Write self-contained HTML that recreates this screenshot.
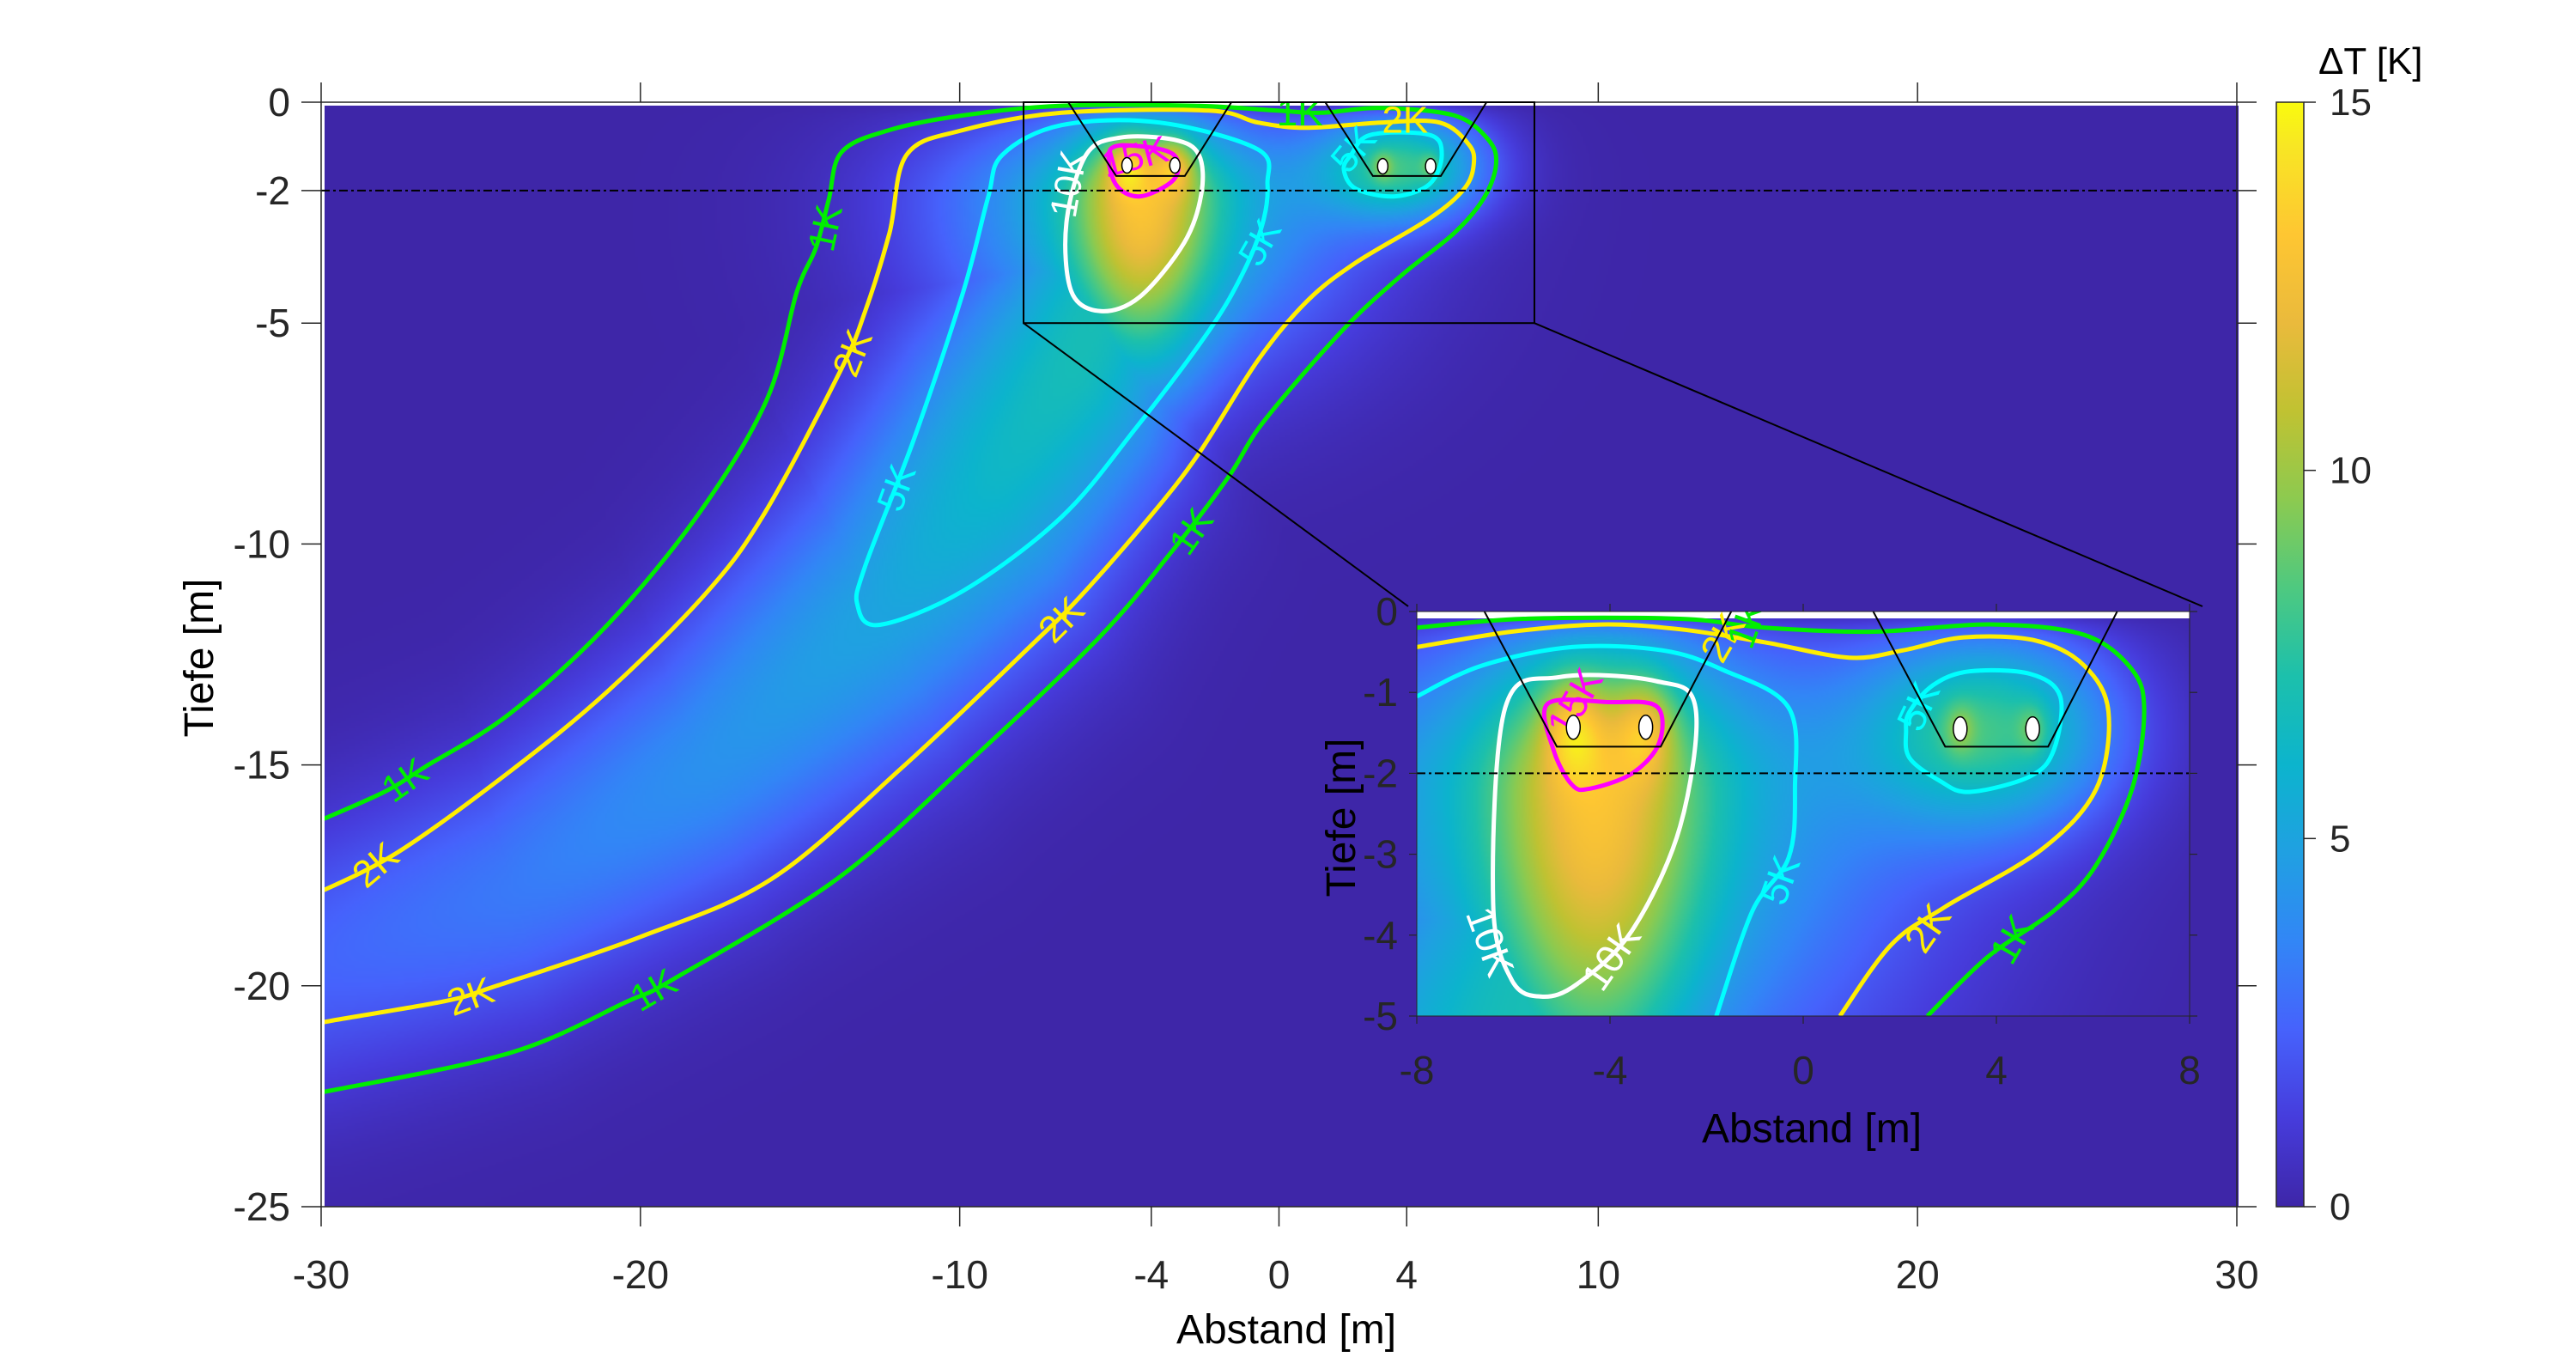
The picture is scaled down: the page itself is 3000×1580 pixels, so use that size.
<!DOCTYPE html>
<html><head><meta charset="utf-8">
<style>
html,body{margin:0;padding:0;background:#fff;}
#wrap{position:relative;width:3000px;height:1580px;overflow:hidden;font-family:"Liberation Sans",Arial,sans-serif;}
canvas{position:absolute;}
svg{position:absolute;left:0;top:0;}
</style></head>
<body>
<div id="wrap">
<canvas id="mainHeat" style="left:378px;top:123px;width:2229px;height:1282px;"></canvas>
<canvas id="insetHeat" style="left:1650px;top:720px;width:900px;height:463px;"></canvas>
<svg id="svg" width="3000" height="1580" xmlns="http://www.w3.org/2000/svg"></svg>
</div>
<script>
// ---------- data ----------
const mainXTicks=[-30,-20,-10,-4,0,4,10,20,30];
const mainYTicks=[0,-2,-5,-10,-15,-20,-25];
const insetXTicks=[-8,-4,0,4,8];
const insetYTicks=[0,-1,-2,-3,-4,-5];
const cbTicks=[0,5,10,15];
// plume centerline model
const plumeX=[-4.5,-6.5,-9,-12.5,-18,-24,-30,-34];
const plumeZ=[-3,-6,-8.5,-11.5,-15,-17.8,-19.4,-19.8];
const plumeA=[7,6.8,6.2,5,4.1,3.2,2.5,2.3];
const plumeW=[2.2,2.6,2.8,2.6,2.3,2.2,2.2,2.2];
// main contours [x,z]
const main1K=[[-30.04,-16.26],[-27.99,-15.6],[-26.76,-15.05],[-24.09,-13.84],[-21.02,-11.82],[-18.15,-9.29],[-16.04,-6.73],[-15.1,-4.29],[-14.5,-3.29],[-14.1,-2.2],[-13.7,-1.13],[-12.2,-0.63],[-9.9,-0.3],[-6.8,-0.08],[-2.66,-0.08],[-0.05,-0.19],[1.33,-0.24],[3.18,-0.13],[5.49,-0.3],[6.56,-0.85],[6.8,-1.41],[6.41,-2.18],[5.49,-2.96],[3.95,-3.85],[2.41,-4.85],[0.87,-6.06],[-0.66,-7.4],[-1.6,-8.5],[-3.39,-10.2],[-5.64,-12.12],[-9.74,-14.95],[-13.84,-17.58],[-18.97,-19.85],[-20.4,-20.35],[-24.09,-21.52],[-30.04,-22.42]];
const main2K=[[-30.04,-17.88],[-27.58,-16.97],[-24.09,-15.15],[-21.02,-13.33],[-17.94,-11.11],[-16.1,-9.29],[-13.73,-6.07],[-12.96,-4.73],[-12.2,-2.96],[-11.66,-1.19],[-9.89,-0.63],[-6.81,-0.24],[-2.2,-0.19],[-0.66,-0.46],[0.87,-0.58],[3.18,-0.46],[5.03,-0.46],[5.95,-0.96],[6.1,-1.41],[5.8,-1.96],[4.72,-2.63],[2.41,-3.63],[0.87,-4.51],[-0.66,-5.84],[-2.51,-7.95],[-4.05,-9.39],[-6.2,-11.17],[-7.74,-12.28],[-11.79,-15.05],[-15.89,-17.58],[-19.99,-18.89],[-24.5,-20.0],[-26.14,-20.35],[-29.83,-20.81],[-30.04,-20.91]];
const main5K=[[-8.66,-1.19],[-6.81,-0.52],[-3.74,-0.46],[-0.66,-1.07],[-0.36,-1.85],[-0.51,-2.74],[-1.12,-3.85],[-2.2,-5.18],[-4.51,-7.4],[-6.81,-9.39],[-9.89,-11.06],[-12.5,-11.83],[-13.2,-11.39],[-12.96,-10.5],[-11.43,-7.62],[-9.89,-4.29],[-9.12,-2.18]];
const main5KR=[[2.26,-1.19],[2.87,-0.74],[4.72,-0.74],[5.1,-1.19],[4.72,-1.85],[3.64,-2.13],[2.41,-1.96],[2.03,-1.52]];
const main10K=[[-6.66,-2.74],[-6.5,-4.29],[-5.58,-4.73],[-4.35,-4.4],[-2.97,-3.18],[-2.43,-2.07],[-2.51,-1.19],[-3.28,-0.85],[-4.97,-0.8],[-6.04,-1.19]];
const main15K=[[-5.28,-1.07],[-4.3,-1.0],[-3.28,-1.2],[-3.28,-1.74],[-4.35,-2.13],[-5.12,-1.85]];
// inset contours
const ins1K=[[-8,-0.2],[-5.79,-0.09],[-2.55,-0.09],[-0.8,-0.2],[1.45,-0.25],[3.94,-0.16],[5.82,-0.29],[6.81,-0.72],[7.06,-1.24],[6.81,-2.19],[6.07,-3.13],[5.19,-3.7],[3.82,-4.27],[2.57,-5]];
const ins2K=[[-8,-0.44],[-6.04,-0.25],[-4.17,-0.16],[-2.55,-0.22],[-0.8,-0.38],[0.95,-0.57],[2.07,-0.48],[3.32,-0.32],[4.82,-0.36],[5.82,-0.67],[6.32,-1.24],[6.07,-2.19],[4.94,-2.94],[2.94,-3.65],[1.82,-4.12],[0.76,-5]];
const ins5K=[[-8,-1.05],[-6.66,-0.67],[-4.79,-0.44],[-2.92,-0.48],[-1.67,-0.72],[-0.3,-1.19],[-0.17,-2.19],[-0.3,-3.04],[-1.05,-3.7],[-1.8,-5]];
const ins5KR=[[2.2,-1.24],[2.69,-0.91],[3.44,-0.74],[4.69,-0.77],[5.32,-1.05],[5.19,-1.71],[4.69,-2.04],[3.44,-2.23],[2.82,-2.09],[2.2,-1.81],[2.13,-1.48]];
const ins10K=[[-6.17,-1.19],[-6.42,-3.6],[-6.04,-4.55],[-5.42,-4.76],[-4.67,-4.6],[-3.54,-3.94],[-2.55,-2.66],[-2.23,-1.19],[-3.05,-0.86],[-5.04,-0.81]];
const ins15K=[[-5.29,-1.14],[-4.04,-1.12],[-3.04,-1.17],[-2.98,-1.62],[-3.54,-2.0],[-4.42,-2.19],[-4.79,-2.14],[-5.17,-1.71]];
// contour labels [x,z,angle]
const mainLabelText=["1K","2K","5K","10K","15K","5K","1K","2K","5K","1K","2K","1K","2K","2K","1K"];
const mainLabelPos=[[-14.2,-2.85,-78],[-13.35,-5.68,-68],[-11.97,-8.73,-70],[-6.58,-1.85,-80],[-4.51,-1.24,-15],[-0.59,-3.18,-60],[0.65,-0.24,0],[3.95,-0.41,0],[2.34,-1.07,-50],[-2.74,-9.72,-55],[-6.81,-11.72,-45],[-27.37,-15.35,-35],[-28.29,-17.27,-40],[-25.32,-20.25,-20],[-19.58,-20.1,-30]];
const insLabelText=["15K","2K","1K","5K","5K","10K","10K","2K","1K"];
const insLabelPos=[[-4.73,-1.12,-60],[-1.67,-0.32,-60],[-1.17,-0.15,-70],[2.38,-1.17,-65],[-0.49,-3.32,-70],[-6.48,-4.08,70],[-3.98,-4.27,-55],[2.57,-3.91,-55],[4.32,-4.05,-60]];
const contourColor={1:"#00ee00",2:"#ffee00",5:"#00ffff",10:"#ffffff",15:"#ff00ff"};
// trenches & pipes
const trenchL=[[-6.6,0],[-5.1,-1.67],[-2.95,-1.67],[-1.49,0]];
const trenchR=[[1.45,0],[2.94,-1.67],[5.07,-1.67],[6.5,0]];
const pipesX=[-4.76,-3.26,3.25,4.75];
const pipesZ=[-1.43,-1.43,-1.45,-1.45];
const parulaPos=[0,0.08,0.16,0.24,0.32,0.40,0.48,0.56,0.64,0.72,0.80,0.88,0.96,1];
const parulaRGB=[[62,38,168],[70,60,220],[70,98,252],[50,134,246],[32,160,226],[12,180,205],[28,192,172],[78,201,128],[140,202,80],[192,194,50],[234,186,60],[254,198,50],[248,230,36],[249,251,14]];

// ---------- axes ----------
const MX=x=>374+(x+30)*2231/60, MZ=z=>119-z*1286/25;
const IX=x=>1650+(x+8)*900/16, IZ=z=>712-z*471/5;
const NS="http://www.w3.org/2000/svg";
const svg=document.getElementById('svg');
function el(tag,attrs,parent){const e=document.createElementNS(NS,tag);for(const k in attrs)e.setAttribute(k,attrs[k]);(parent||svg).appendChild(e);return e;}

function parula(t){t=Math.max(0,Math.min(1,t));for(let i=1;i<parulaPos.length;i++){if(t<=parulaPos[i]){const f=(t-parulaPos[i-1])/(parulaPos[i]-parulaPos[i-1]);const a=parulaRGB[i-1],b=parulaRGB[i];return [a[0]+(b[0]-a[0])*f,a[1]+(b[1]-a[1])*f,a[2]+(b[2]-a[2])*f];}}return parulaRGB[parulaRGB.length-1];}

function field(x,z){
  const dz=z+2.3, up=dz>0;
  const sN=up?1.5:3.2, sW=up?1.5:2.6;
  const vN=Math.exp(-dz*dz/(2*sN*sN)), vW=Math.exp(-dz*dz/(2*sW*sW));
  let tL=6.5*Math.exp(-(x+4.3)*(x+4.3)/4.5)*vN+6.5*Math.exp(-(x+4.3)*(x+4.3)/40.5)*vW;
  for(let i=0;i<2;i++){const dx=x-pipesX[i],dd=z-pipesZ[i];tL+=3.5*Math.exp(-(dx*dx+dd*dd)/0.35);}
  let tR=7*Math.exp(-(x-3.9)*(x-3.9)/6.68-(z+1.45)*(z+1.45)/1.54);
  for(let i=2;i<4;i++){const dx=x-pipesX[i],dd=z-pipesZ[i];tR+=2*Math.exp(-(dx*dx+dd*dd)/0.1);}
  let best=1e9,A=0,W=1;
  for(let i=0;i<plumeX.length-1;i++){
    const ax=plumeX[i],az=plumeZ[i],bx=plumeX[i+1],bz=plumeZ[i+1];
    const vx=bx-ax,vz=bz-az;let t=((x-ax)*vx+(z-az)*vz)/(vx*vx+vz*vz);t=Math.max(0,Math.min(1,t));
    const px=ax+vx*t,pz=az+vz*t,d=(x-px)*(x-px)+(z-pz)*(z-pz);
    if(d<best){best=d;A=plumeA[i]+(plumeA[i+1]-plumeA[i])*t;W=plumeW[i]+(plumeW[i+1]-plumeW[i])*t;}
  }
  const tP=A*Math.exp(-best/(2*W*W));
  let T=Math.max(tL,tP)+tR;
  T*=1-Math.exp(z/0.15);
  return T;
}
function renderHeat(id,W,H,scale,x0,x1,z0,z1){
  const c=document.getElementById(id);const w=Math.round(W/scale),h=Math.round(H/scale);
  c.width=w;c.height=h;const ctx=c.getContext('2d');const img=ctx.createImageData(w,h);
  for(let j=0;j<h;j++){const z=z0+(z1-z0)*(j+0.5)/h;for(let i=0;i<w;i++){const x=x0+(x1-x0)*(i+0.5)/w;const col=parula(field(x,z)/15);const k=(j*w+i)*4;img.data[k]=col[0];img.data[k+1]=col[1];img.data[k+2]=col[2];img.data[k+3]=255;}}
  ctx.putImageData(img,0,0);
}
renderHeat('mainHeat',2229,1282,3,(378-374)/2231*60-30,(2607-374)/2231*60-30,-(123-119)*25/1286,-25);
renderHeat('insetHeat',900,463,2,-8,8,-(720-712)*5/471,-5);

// clip paths
const defs=el('defs',{});
const cm=el('clipPath',{id:'clipMain'},defs);el('rect',{x:378,y:119,width:2229,height:1286},cm);
const ci=el('clipPath',{id:'clipInset'},defs);el('rect',{x:1650,y:712,width:900,height:471},ci);
const grad=el('linearGradient',{id:'parulaGrad',x1:0,y1:1,x2:0,y2:0},defs);
parulaPos.forEach((p,i)=>{el('stop',{offset:p,'stop-color':`rgb(${parulaRGB[i].join(',')})`},grad);});

function smoothPath(pts,fx,fz,closed){
  const P=pts.map(p=>[fx(p[0]),fz(p[1])]);const n=P.length;
  const g=i=>closed?P[(i+n)%n]:P[Math.max(0,Math.min(n-1,i))];
  let d=`M${P[0][0].toFixed(1)},${P[0][1].toFixed(1)}`;const m=closed?n:n-1;
  for(let i=0;i<m;i++){const p0=g(i-1),p1=g(i),p2=g(i+1),p3=g(i+2);
    const c1=[p1[0]+(p2[0]-p0[0])/6,p1[1]+(p2[1]-p0[1])/6],c2=[p2[0]-(p3[0]-p1[0])/6,p2[1]-(p3[1]-p1[1])/6];
    d+=`C${c1[0].toFixed(1)},${c1[1].toFixed(1)} ${c2[0].toFixed(1)},${c2[1].toFixed(1)} ${p2[0].toFixed(1)},${p2[1].toFixed(1)}`;}
  return d+(closed?'Z':'');
}

// ---------- main plot overlay ----------
const gMain=el('g',{'clip-path':'url(#clipMain)'});


const mainLines=[[main1K,1,false,'contour-1k'],[main2K,2,false,'contour-2k'],[main5K,5,true,'contour-5k-left'],[main5KR,5,true,'contour-5k-right'],[main10K,10,true,'contour-10k'],[main15K,15,true,'contour-15k']];
mainLines.forEach(L=>{const p=el('path',{d:smoothPath(L[0],MX,MZ,L[2]),fill:'none',stroke:contourColor[L[1]],'stroke-width':5},gMain);
  
  });
mainLabelText.forEach((t,i)=>{const p=mainLabelPos[i];const col=contourColor[parseInt(t)];
  const tx=el('text',{x:MX(p[0]),y:MZ(p[1]),fill:col,'font-size':44,'text-anchor':'middle','dominant-baseline':'central',transform:`rotate(${p[2]} ${MX(p[0])} ${MZ(p[1])})`},gMain);tx.textContent=t;
  
  });
[trenchL,trenchR].forEach((tr,k)=>{const p=el('polyline',{points:tr.map(q=>MX(q[0])+','+MZ(q[1])).join(' '),fill:'none',stroke:'#000','stroke-width':2},gMain);
  
  });
pipesX.forEach((px,i)=>{const e=el('ellipse',{cx:MX(px),cy:MZ(pipesZ[i]),rx:6,ry:9,fill:'#fff',stroke:'#000','stroke-width':1.5},gMain);
  
  });
const dm=el('line',{x1:MX(-30),y1:MZ(-2),x2:MX(30),y2:MZ(-2),stroke:'#000','stroke-width':2,'stroke-dasharray':'10 4 3 4'});



// main axes
const axC='#262626';
const mb=el('rect',{x:MX(-30),y:MZ(0),width:MX(30)-MX(-30),height:MZ(-25)-MZ(0),fill:'none',stroke:axC,'stroke-width':1.5});


mainXTicks.forEach(v=>{const x=MX(v);
  el('line',{x1:x,y1:MZ(0),x2:x,y2:MZ(0)-23,stroke:axC,'stroke-width':1.5});
  el('line',{x1:x,y1:MZ(-25),x2:x,y2:MZ(-25)+23,stroke:axC,'stroke-width':1.5});
  const t=el('text',{x:x,y:1500,'font-size':46,fill:axC,'text-anchor':'middle'});t.textContent=v;
  
  });
mainYTicks.forEach(v=>{const y=MZ(v);
  el('line',{x1:MX(-30)-23,y1:y,x2:MX(-30),y2:y,stroke:axC,'stroke-width':1.5});
  el('line',{x1:MX(30),y1:y,x2:MX(30)+23,y2:y,stroke:axC,'stroke-width':1.5});
  const t=el('text',{x:338,y:y+16,'font-size':46,fill:axC,'text-anchor':'end'});t.textContent=v;
  
  });
let t1=el('text',{x:1498,y:1564,'font-size':48,fill:'#000','text-anchor':'middle'});t1.textContent='Abstand [m]';


let t2=el('text',{x:248,y:766,'font-size':48,fill:'#000','text-anchor':'middle',transform:'rotate(-90 248 766)'});t2.textContent='Tiefe [m]';



// zoom box & connectors
const zb=el('rect',{x:MX(-8),y:MZ(0),width:MX(8)-MX(-8),height:MZ(-5)-MZ(0),fill:'none',stroke:'#000','stroke-width':2});


const c1=el('line',{x1:MX(-8),y1:MZ(-5),x2:IX(-8)-10,y2:IZ(0)-6,stroke:'#000','stroke-width':2});


const c2=el('line',{x1:MX(8),y1:MZ(-5),x2:IX(8)+15,y2:IZ(0)-6,stroke:'#000','stroke-width':2});



// ---------- inset ----------
const ws=el('rect',{x:1650,y:712,width:900,height:8,fill:'#fff'});


const gIn=el('g',{'clip-path':'url(#clipInset)'});


const insLines=[[ins1K,1,false,'contour-1k'],[ins2K,2,false,'contour-2k'],[ins5K,5,false,'contour-5k-left'],[ins5KR,5,true,'contour-5k-right'],[ins10K,10,true,'contour-10k'],[ins15K,15,true,'contour-15k']];
insLines.forEach(L=>{const p=el('path',{d:smoothPath(L[0],IX,IZ,L[2]),fill:'none',stroke:contourColor[L[1]],'stroke-width':5},gIn);
  
  });
insLabelText.forEach((t,i)=>{const p=insLabelPos[i];const col=contourColor[parseInt(t)];
  const tx=el('text',{x:IX(p[0]),y:IZ(p[1]),fill:col,'font-size':46,'text-anchor':'middle','dominant-baseline':'central',transform:`rotate(${p[2]} ${IX(p[0])} ${IZ(p[1])})`},gIn);tx.textContent=t;
  
  });
[trenchL,trenchR].forEach((tr,k)=>{const p=el('polyline',{points:tr.map(q=>IX(q[0])+','+IZ(q[1])).join(' '),fill:'none',stroke:'#000','stroke-width':2},gIn);
  
  });
pipesX.forEach((px,i)=>{const e=el('ellipse',{cx:IX(px),cy:IZ(pipesZ[i]),rx:8,ry:14,fill:'#fff',stroke:'#000','stroke-width':1.5},gIn);
  
  });
const di=el('line',{x1:IX(-8),y1:IZ(-2),x2:IX(8),y2:IZ(-2),stroke:'#000','stroke-width':2,'stroke-dasharray':'10 4 3 4'});


const ib=el('rect',{x:IX(-8),y:IZ(0),width:900,height:471,fill:'none',stroke:axC,'stroke-width':1});


insetXTicks.forEach(v=>{const x=IX(v);
  el('line',{x1:x,y1:IZ(-5),x2:x,y2:IZ(-5)+9,stroke:axC,'stroke-width':1.2});
  el('line',{x1:x,y1:IZ(0),x2:x,y2:IZ(0)-9,stroke:axC,'stroke-width':1.2});
  const t=el('text',{x:x,y:1262,'font-size':46,fill:axC,'text-anchor':'middle'});t.textContent=v;
  
  });
insetYTicks.forEach(v=>{const y=IZ(v);
  el('line',{x1:IX(-8)-9,y1:y,x2:IX(-8),y2:y,stroke:axC,'stroke-width':1.2});
  el('line',{x1:IX(8),y1:y,x2:IX(8)+9,y2:y,stroke:axC,'stroke-width':1.2});
  const t=el('text',{x:1628,y:y+16,'font-size':46,fill:axC,'text-anchor':'end'});t.textContent=v;
  
  });
let t3=el('text',{x:2110,y:1330,'font-size':48,fill:'#000','text-anchor':'middle'});t3.textContent='Abstand [m]';


let t4=el('text',{x:1578,y:952,'font-size':48,fill:'#000','text-anchor':'middle',transform:'rotate(-90 1578 952)'});t4.textContent='Tiefe [m]';



// ---------- colorbar ----------
const CB=v=>1405-v*(1405-119)/15;
const cb=el('rect',{x:2651,y:119,width:32,height:1286,fill:'url(#parulaGrad)',stroke:axC,'stroke-width':1.5});


cbTicks.forEach(v=>{const y=CB(v);
  el('line',{x1:2683,y1:y,x2:2697,y2:y,stroke:axC,'stroke-width':1.5});
  const t=el('text',{x:2713,y:y+15,'font-size':44,fill:axC});t.textContent=v;
  
  });
let t5=el('text',{x:2700,y:86,'font-size':44,fill:'#000'});t5.textContent='ΔT [K]';


</script>
</body></html>
